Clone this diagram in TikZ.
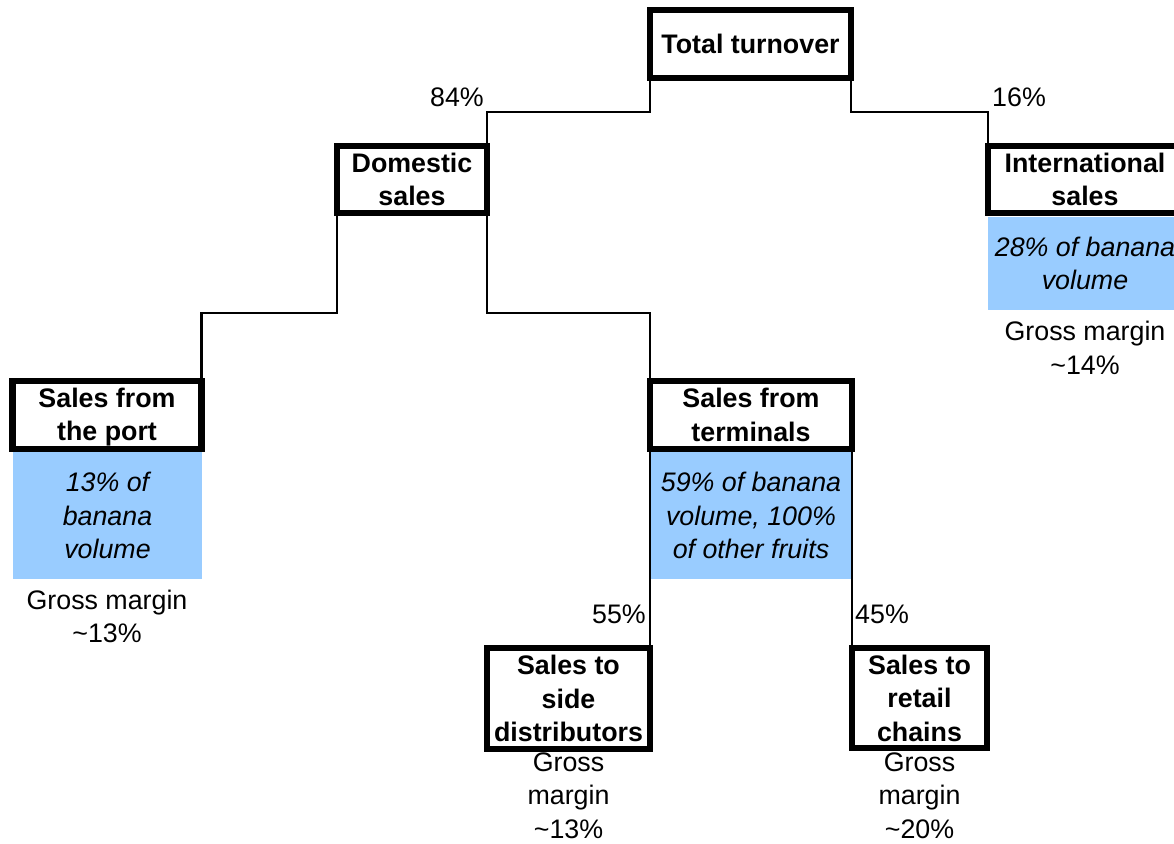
\documentclass[tikz,border=0pt]{standalone}
\usepackage{fontspec}
\setmainfont{Liberation Sans}
\usepackage{xcolor}
\usepackage{tikz}
\usetikzlibrary{calc,positioning}
\definecolor{volblue}{HTML}{99CCFF}
\newcommand{\bigtxt}{\fontsize{26.8}{33.5}\selectfont}
\newcommand{\vstrut}{\rule[-5pt]{0pt}{29pt}}

\begin{document}
\begin{tikzpicture}[x=1pt, y=-1pt,
  box/.style={draw, line width=6.5pt, fill=white, inner sep=0pt, outer sep=0pt, align=center, font=\bigtxt\bfseries},
  vol/.style={fill=volblue, inner sep=0pt, outer sep=0pt, align=center, font=\bigtxt\itshape},
  note/.style={inner sep=0pt, align=center, font=\bigtxt},
  link/.style={line width=2.4pt}]
  \useasboundingbox (0,0) rectangle (1174,843);
  % blue volume panels
  \node[vol, minimum width=189pt, minimum height=127pt] (portvol) at (107.5,515.5) {\vstrut 13\% of\\\vstrut banana\\\vstrut volume};
  \node[vol, minimum width=202pt, minimum height=127pt] (termvol) at (751,515.5) {\vstrut 59\% of banana\\\vstrut volume, 100\%\\\vstrut of other fruits};
  \node[vol, minimum width=195pt, minimum height=93pt] (intlvol) at (1085,263.5) {\vstrut 28\% of banana\\\vstrut volume};
  % boxes
  \node[box, minimum width=201pt, minimum height=68pt] (total) at (750.5,44) {\vstrut Total turnover};
  \node[box, minimum width=150pt, minimum height=67pt] (dom) at (412,179.5) {\vstrut Domestic\\\vstrut sales};
  \node[box, minimum width=194pt, minimum height=67pt] (intl) at (1085,179.5) {\vstrut International\\\vstrut sales};
  \node[box, minimum width=189pt, minimum height=68pt] (port) at (107,415) {\vstrut Sales from\\\vstrut the port};
  \node[box, minimum width=202pt, minimum height=68pt] (term) at (751,415) {\vstrut Sales from\\\vstrut terminals};
  \node[box, minimum width=163pt, minimum height=101pt] (side) at (568.5,698.5) {\vstrut Sales to\\\vstrut side\\\vstrut distributors};
  \node[box, minimum width=135pt, minimum height=100pt] (retail) at (919.5,698) {\vstrut Sales to\\\vstrut retail\\\vstrut chains};
  % connectors
  \draw[link] (total.south west) -- ++(0,34) -| (dom.north east);
  \draw[link] (total.south east) -- ++(0,34) -| (intl.north west);
  \draw[link] (dom.south west) -- ++(0,100) -| (port.north east);
  \draw[link] (dom.south east) -- ++(0,100) -| (term.north west);
  \draw[link] (term.south west) -- (side.north east);
  \draw[link] (term.south east) -- (retail.north west);
  % shares
  \node[note, anchor=east] (domshare) at (484,97) {\vstrut 84\%};
  \node[note, anchor=west] (intlshare) at (992,97) {\vstrut 16\%};
  \node[note, anchor=east] (sideshare) at (646,614) {\vstrut 55\%};
  \node[note, anchor=west] (retailshare) at (855,614) {\vstrut 45\%};
  % margins
  \node[note] (intlgm) at (1085,348) {\vstrut Gross margin\\\vstrut\textasciitilde14\%};
  \node[note] (portgm) at (107,616.5) {\vstrut Gross margin\\\vstrut\textasciitilde13\%};
  \node[note] (sidegm) at (568.5,795) {\vstrut Gross\\\vstrut margin\\\vstrut\textasciitilde13\%};
  \node[note] (retailgm) at (919.5,795) {\vstrut Gross\\\vstrut margin\\\vstrut\textasciitilde20\%};
\end{tikzpicture}
\end{document}
